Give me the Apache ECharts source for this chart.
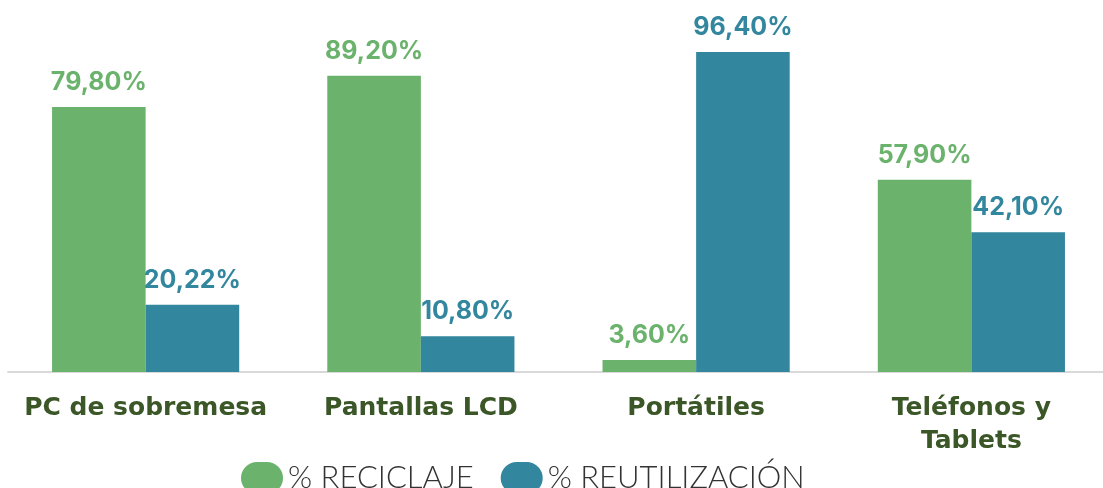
<!DOCTYPE html>
<html>
<head>
<meta charset="utf-8">
<script src="https://cdn.jsdelivr.net/npm/echarts@6/dist/echarts.min.js"></script>
<style>
  html, body { margin: 0; padding: 0; background: #fff; }
  #chart { width: 1103px; height: 488px; }
</style>
</head>
<body>
<div id="chart"></div>
<script>
const categories = ['PC de sobremesa', 'Pantallas LCD', 'Portátiles', 'Teléfonos y Tablets'];
const reciclaje = [79.8, 89.2, 3.6, 57.9];
const reutilizacion = [20.22, 10.8, 96.4, 42.1];

const green = '#6bb26d';
const teal = '#32869e';

const fmt = (p) => p.value.toFixed(2).replace('.', ',') + '%';
const pill = 'path://M16,0 L26,0 A16,16 0 0,1 26,32 L16,32 A16,16 0 0,1 16,0 Z';

const chart = echarts.init(document.getElementById('chart'));
chart.setOption({
    animation: false,
    grid: { left: 8, width: 1101, top: 40, bottom: 116, outerBoundsMode: 'none' },
    legend: {
        left: 236,
        top: 457,
        itemWidth: 42,
        itemHeight: 32,
        itemGap: 27,
        icon: pill,
        textStyle: { fontFamily: 'Lato', fontWeight: 300, fontSize: 31, color: '#333' },
        data: ['% RECICLAJE', '% REUTILIZACIÓN']
    },
    xAxis: {
        type: 'category',
        data: categories,
        axisLine: { lineStyle: { color: '#d9d9d9', width: 2 } },
        axisTick: { show: false },
        axisLabel: {
            interval: 0,
            margin: 20,
            fontFamily: 'DejaVu Sans',
            fontWeight: 'bold',
            fontSize: 25,
            lineHeight: 33,
            color: '#3b5627',
            formatter: (v) => v.replace(' y ', ' y\n')
        }
    },
    yAxis: { type: 'value', min: 0, max: 100, show: false, splitLine: { show: false } },
    series: [
        {
            name: '% RECICLAJE', type: 'bar', data: reciclaje,
            barGap: '0%', barCategoryGap: '32%',
            itemStyle: { color: green },
            label: { show: true, position: 'top', distance: 12, formatter: fmt,
                fontFamily: 'Inter', fontWeight: 'bold', fontSize: 25, color: green }
        },
        {
            name: '% REUTILIZACIÓN', type: 'bar', data: reutilizacion,
            itemStyle: { color: teal },
            label: { show: true, position: 'top', distance: 12, formatter: fmt,
                fontFamily: 'Inter', fontWeight: 'bold', fontSize: 25, color: teal }
        }
    ]
});
</script>
</body>
</html>
